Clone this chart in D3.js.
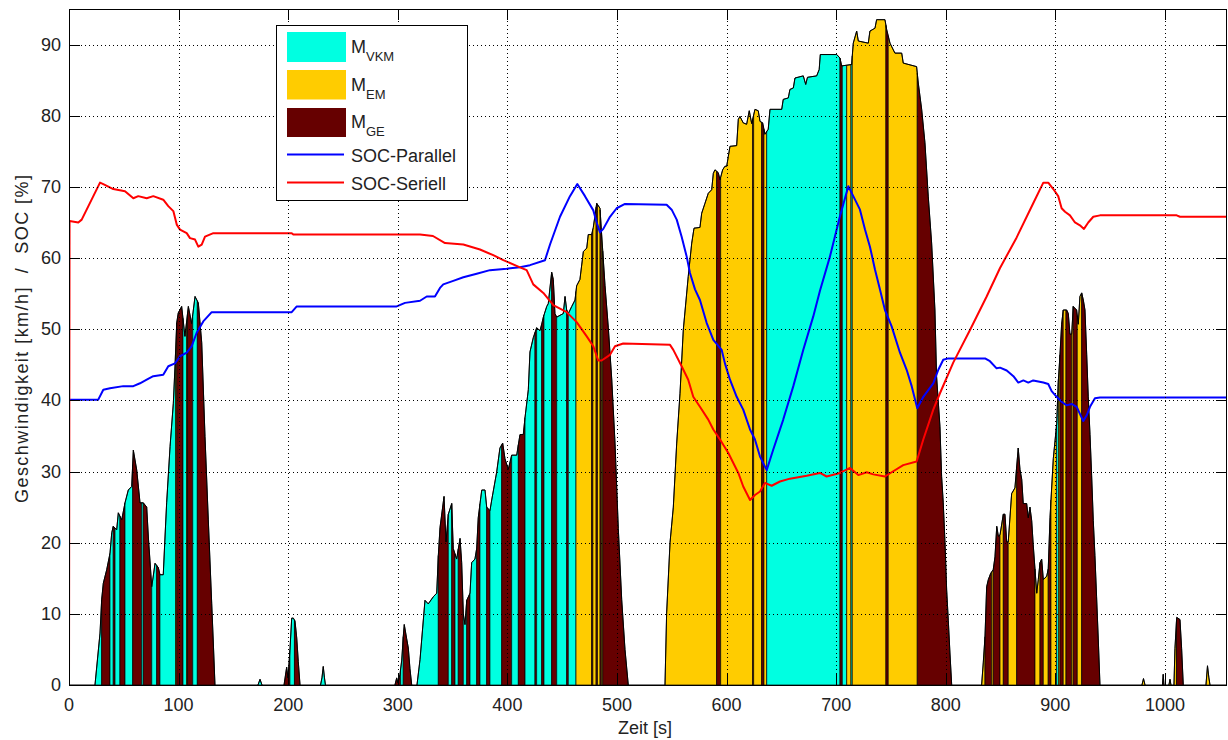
<!DOCTYPE html>
<html>
<head>
<meta charset="utf-8">
<script src="https://cdn.jsdelivr.net/npm/d3@7"></script>
<style>
  body { margin: 0; background: #fff; }
  svg { display: block; }
  text { font-family: "Liberation Sans", Arial, Helvetica, sans-serif; fill: #222; }
</style>
</head>
<body>
<svg id="chart" width="1228" height="740"></svg>
<script>
// ---- Data -----------------------------------------------------------------
// Vehicle speed over the cycle: [time s, speed km/h]
const speedProfile = [
  [0,0],[23.7,0],[28.3,7.3],[29.8,12],[31.3,14.3],[34.4,16.2],[37.4,18.5],[39.0,21.4],[40.4,22.3],
  [43.5,21.8],[45.0,24.2],[48.1,23.2],[51.1,25.6],[54.1,27.4],[57.2,27.9],[58.7,33],[61.8,30.2],
  [64.8,25.6],[67.8,25.6],[70.9,25],[72.4,20.8],[75.5,13.8],[78.5,17.1],[81.5,16.5],[83.0,15.5],
  [86.0,15.5],[87.6,20.8],[89.1,25.6],[92.2,33.5],[95.2,39.6],[96.7,44.7],[98.3,50.9],[99.7,52.3],
  [102.8,53.2],[105.8,49],[108.9,53.2],[111.9,50.8],[115.0,54.6],[118.0,53.7],[121.1,48.1],
  [124.1,34.9],[127.1,23.2],[130.2,11.5],[131.7,5.9],[133.2,0],
  [172.4,0],[174.3,0.8],[176.1,0],
  [196.2,0],[198.6,2.5],[199.8,1],[201.6,4.9],[203.2,9.4],[204.7,9.4],[206.2,9],[207.8,6.6],
  [209.2,3.3],[210.8,0],
  [229.5,0],[230.8,1],[232.0,2.6],[233.1,1],[234.0,0],
  [297.4,0],[299.0,1],[300.2,0.3],[302.0,1.5],[303.6,3.5],[305.0,6.8],[305.9,8.5],[308.1,6.5],
  [309.6,5.2],[311.1,2.3],[312.7,0],
  [317.5,0],[320.3,3.6],[324.8,11.9],[327.8,11.4],[332.4,12.4],[335.5,12.9],[337.0,18.2],
  [338.5,22.1],[342.2,26.5],[344.0,20.1],[346.1,24],[349.2,25.5],[350.6,19.2],[353.7,17.7],
  [356.8,20.6],[358.3,17.2],[359.8,10],[361.3,8.5],[362.9,11.9],[365.9,12.9],[367.4,17.2],
  [370.4,17.7],[372.0,19.2],[373.4,23.5],[376.6,27.4],[379.6,27.4],[381.1,25],[384.1,24.5],
  [385.7,26],[390.2,29.9],[393.2,33.3],[395.7,34],[397.8,31.8],[400.8,30.3],[403.9,32.3],
  [408.5,32.3],[411.5,35.2],[414.5,35.2],[416.1,37.6],[419.1,41.5],[420.6,46.8],[423.6,48.8],
  [426.7,50.2],[429.7,49.8],[431.3,50.7],[432.8,51.7],[435.9,53.2],[437.3,53.6],[440.4,58],
  [441.9,57],[443.4,52.2],[445.0,51.7],[451.0,52.2],[452.6,54.6],[454.1,52.7],[455.6,52.2],
  [458.7,53.2],[461.7,54.1],[463.2,56.1],[466.2,57],[469.3,60.9],[472.4,61.4],[473.8,63.3],
  [476.9,63.3],[478.4,64.3],[481.5,67.7],[484.5,67],[486.0,63.3],[489.1,56.1],[492.1,50.2],
  [495.2,43],[498.2,34],[501.2,22],[504.3,12],[507.3,5],[510.3,0],
  [543.8,0],[545.3,10.1],[548.4,20],[551.4,25],[554.5,34],[557.5,41],[560.5,49.9],[565.0,57.4],
  [568.2,62.1],[570.3,64.2],[575.7,64.3],[577.3,66.3],[580.3,67.7],[583.3,69.1],[586.4,69.6],
  [587.9,71.9],[589.4,72.4],[592.4,72],[594.0,71],[596.4,72.4],[598.5,72.9],[600.1,72.9],
  [601.6,74.3],[603.1,75.7],[609.2,75.8],[610.7,79.5],[612.2,79.9],[615.2,79],[618.3,78.8],
  [620.7,80.7],[622.9,78.9],[625.9,80.9],[628.9,80.7],[630.5,79.2],[632.9,79],[635.0,77.4],
  [638.0,78.1],[639.6,80.9],[650.3,80.9],[651.7,82.3],[656.3,82.5],[657.8,83.7],[660.9,83.9],
  [662.4,85.3],[670.0,85.6],[672.2,84.4],[673.8,85.4],[682.2,85.6],[684.5,86.5],[685.5,88.6],
  [700.5,88.6],[703.5,88.1],[705.0,87],[714.1,87.2],[715.6,90.2],[718.7,91.9],[720.2,90.5],
  [729.3,90.2],[730.8,91.9],[735.4,92.3],[736.9,93.5],[744.5,93.5],[746.1,92.1],[749.1,90.2],
  [753.6,88.8],[759.8,88.8],[761.2,87.4],[773.4,86.9],[774.9,84.6],[778.0,80.9],[781.0,76.2],
  [784.0,68.7],[787.1,62.1],[790.1,52.7],[791.6,43.4],[794.7,36.3],[796.2,29.3],[797.7,25.6],
  [799.3,20],[800.8,13.4],[802.3,9.1],[803.8,4.5],[805.4,0],
  [832.7,0],[834.2,3.1],[835.8,6.8],[837.3,13.8],[838.8,14.8],[841.0,15.7],[843.3,16.2],
  [844.9,18],[846.5,22.3],[848.0,20.9],[849.5,21.1],[852.5,24],[854.0,24],[855.6,20.1],
  [857.0,20.1],[860.1,26.9],[863.1,27.7],[866.1,33.3],[867.7,30.3],[869.3,28.9],[870.7,25.5],
  [873.8,25.5],[875.3,23.5],[876.8,25],[878.4,23.1],[879.8,19.7],[883.0,12.9],[884.4,14.8],
  [886.0,17.2],[887.5,17.7],[889.0,14.8],[892.1,15.3],[893.5,16.3],[895.1,23.5],[898.1,31.8],
  [901.2,36.7],[902.6,42.5],[904.2,46.4],[905.7,50.7],[907.2,52.7],[910.3,52.7],[911.8,52.2],
  [913.3,49.3],[914.9,49.3],[916.3,53.2],[919.4,52.7],[920.9,50.7],[922.4,54.6],[924.0,55.1],
  [925.5,54.1],[927.0,52.7],[928.6,46.4],[930.0,40.5],[931.6,35.2],[933.1,29.4],[934.6,23.1],
  [936.1,18.2],[937.6,12.4],[939.1,6.6],[940.7,0],
  [979.0,0],[980.4,0.9],[981.8,0],
  [997.7,0],[998.4,1.5],[999.1,0],
  [1003.6,0],[1004.6,0.8],[1005.5,0],
  [1008.2,0],[1009.1,5.1],[1010.7,9.5],[1013.7,9.2],[1015.2,5.1],[1016.7,0],
  [1037.4,0],[1038.8,2.7],[1040.1,1],[1041.1,0],[1056.6,0]
];

// Active drive source per interval: [start s, end s, source]
const modeIntervals = [
  [23.7,29.8,"VKM"],[29.8,37.4,"GE"],[37.4,40.4,"VKM"],[40.4,42.0,"GE"],[42.0,46.5,"VKM"],
  [46.5,51.1,"GE"],[51.1,58.1,"VKM"],[58.1,66.3,"GE"],[66.3,67.8,"VKM"],[67.8,75.5,"GE"],
  [75.5,80.0,"VKM"],[80.0,83.0,"GE"],[83.0,97.2,"VKM"],[97.2,98.3,"EM"],[98.3,104.0,"GE"],
  [104.0,107.2,"VKM"],[107.2,108.1,"EM"],[108.1,112.9,"GE"],[112.9,117.1,"VKM"],[117.1,133.2,"GE"],
  [172.4,176.1,"VKM"],
  [196.2,201.6,"GE"],[201.6,205.7,"VKM"],[205.7,210.8,"GE"],
  [229.5,234.0,"VKM"],
  [297.4,302.6,"GE"],[302.6,305.0,"VKM"],[305.0,312.7,"GE"],
  [317.5,337.0,"VKM"],[337.0,346.1,"GE"],[346.1,349.2,"VKM"],[349.2,352.2,"GE"],[352.2,355.2,"VKM"],
  [355.2,359.8,"GE"],[359.8,362.9,"VKM"],[362.9,365.9,"GE"],[365.9,372.0,"VKM"],[372.0,375.0,"GE"],
  [375.0,381.1,"VKM"],[381.1,384.1,"GE"],[384.1,394.8,"VKM"],[394.8,403.9,"GE"],[403.9,410.0,"VKM"],
  [410.0,416.1,"GE"],[416.1,425.2,"VKM"],[425.2,426.7,"GE"],[426.7,431.3,"VKM"],[431.3,433.4,"GE"],
  [433.4,440.4,"VKM"],[440.4,445.0,"GE"],[445.0,454.1,"VKM"],[454.1,455.6,"GE"],[455.6,462.6,"VKM"],
  [462.6,476.9,"EM"],[476.9,478.0,"GE"],[478.0,481.0,"EM"],[481.0,482.2,"GE"],[482.2,484.6,"EM"],
  [484.6,485.8,"GE"],[485.8,487.0,"EM"],[487.0,510.3,"GE"],
  [543.8,590.9,"EM"],[590.9,594.6,"GE"],[594.6,623.8,"EM"],[623.8,624.7,"GE"],[624.7,632.0,"EM"],
  [632.0,634.1,"GE"],[634.1,636.6,"EM"],[636.6,703.5,"VKM"],[703.5,705.6,"GE"],[705.6,709.6,"VKM"],
  [709.6,713.5,"EM"],[713.5,714.7,"VKM"],[714.7,745.4,"EM"],[745.4,747.5,"GE"],[747.5,774.0,"EM"],
  [774.0,805.4,"GE"],
  [832.7,835.8,"EM"],[835.8,841.9,"GE"],[841.9,843.3,"EM"],[843.3,849.5,"GE"],[849.5,852.5,"EM"],
  [852.5,857.0,"GE"],[857.0,864.7,"EM"],[864.7,881.4,"GE"],[881.4,886.0,"EM"],[886.0,889.0,"GE"],
  [889.0,893.5,"EM"],[893.5,896.0,"GE"],[896.0,901.0,"EM"],[901.0,902.8,"VKM"],[902.8,904.2,"EM"],
  [904.2,907.2,"GE"],[907.2,909.7,"EM"],[909.7,914.9,"GE"],[914.9,916.3,"EM"],[916.3,920.0,"GE"],
  [920.0,924.0,"EM"],[924.0,940.7,"GE"],
  [979.0,981.8,"EM"],[997.7,999.1,"GE"],[1003.6,1005.5,"EM"],[1008.2,1010.5,"EM"],
  [1010.5,1016.7,"GE"],[1037.4,1041.1,"EM"]
];

// Battery state of charge, parallel hybrid: [time s, SOC %]
const socParallel = [
  [0,40.1],[26.7,40.1],[31.3,41.5],[37.4,41.7],[49.5,42],[58.7,42],[64.8,42.4],[70.9,42.9],
  [76.9,43.4],[86.0,43.6],[90.6,44.8],[96.7,45.2],[101.3,46.2],[107.4,46.7],[111.9,47.6],
  [116.5,49.5],[122.5,51.1],[130.2,52.4],[203.2,52.4],[207.8,53.2],[299.0,53.2],[306.6,53.7],
  [320.3,54.0],[326.4,54.6],[333.9,54.6],[338.5,55.8],[341.5,56.3],[350.6,56.8],[359.8,57.3],
  [372.0,57.8],[384.1,58.3],[399.4,58.5],[411.5,58.7],[420.6,59],[434.3,59.7],[438.9,61.9],
  [448.0,65.8],[457.1,68.7],[463.8,70.4],[470.8,68.7],[478.4,66.7],[481.5,65],[484.5,63.6],
  [487.5,64.1],[493.6,65.8],[499.7,67],[507.3,67.6],[545.3,67.5],[549.9,66.8],[554.5,65.4],
  [559.0,63],[563.6,60.2],[566.6,57.9],[571.2,55.6],[575.7,54.1],[581.8,50.9],[587.9,48.5],
  [595.5,47.1],[598.5,45.2],[603.1,42.9],[609.2,40.5],[615.2,38.7],[621.4,35.9],[625.9,34.5],
  [630.5,32.1],[636.6,30.2],[642.6,33.1],[651.7,37.3],[660.9,42],[670.0,47.1],[679.1,51.8],
  [685.2,55.4],[694.3,60.2],[703.5,65.9],[711.1,70.1],[715.6,68.7],[721.7,66.8],[726.3,64],
  [730.8,61.6],[735.4,58.4],[739.9,55.6],[744.5,52.7],[750.6,50.4],[758.2,46.7],[764.3,44.3],
  [768.9,42],[774.0,38.9],[779.5,40.5],[788.6,42.4],[793.2,44.3],[797.7,45.7],[802.3,45.9],
  [835.8,45.9],[840.3,45.5],[846.4,44.5],[849.5,44.6],[855.6,44.2],[861.7,43.4],[866.2,42.5],
  [870.8,42.8],[875.3,42.5],[879.8,42.8],[889.0,42.5],[893.5,42.3],[896.6,41.3],[901.2,40.5],
  [905.7,39.8],[910.3,39.3],[914.9,39.5],[919.4,39.1],[922.4,38.1],[925.5,37.1],[928.6,37.9],
  [931.6,39.1],[936.1,40.3],[940.7,40.4],[1056.6,40.4]
];

// Battery state of charge, series hybrid: [time s, SOC %]
const socSeriell = [
  [0,0],[0.5,65.2],[8.5,65],[11.6,65.4],[28.3,70.6],[31.3,70.4],[40.4,69.7],[51.1,69.4],
  [58.7,68.4],[63.2,68.7],[70.9,68.4],[76.9,68.7],[86.0,68.2],[90.6,67.3],[95.2,66.6],
  [98.3,64.7],[101.3,64],[107.4,63.5],[110.4,62.8],[115.0,62.6],[118.0,61.6],[121.1,61.9],
  [124.1,63],[131.7,63.5],[203.2,63.5],[204.7,63.3],[320.3,63.3],[332.1,63.1],[343.1,62.1],
  [359.8,61.9],[375.0,61.2],[387.1,60.4],[396.3,59.7],[411.5,58.7],[417.6,58.3],[423.6,56.3],
  [432.8,55.1],[441.9,53.4],[454.1,52.4],[463.2,51],[472.4,49],[478.4,47.6],[482.9,45.6],
  [486.0,45.6],[493.6,46.4],[498.2,47.6],[505.7,48],[548.4,47.8],[551.4,47.1],[559.0,44.8],
  [565.0,42.9],[569.6,40.5],[575.7,39.1],[583.3,37.3],[587.9,35.9],[594.0,34.5],[601.6,32.6],
  [610.7,29.8],[615.2,27.9],[621.4,26],[625.9,26.7],[630.5,27.2],[635.0,28.4],[641.1,28],
  [648.7,28.6],[657.8,29],[673.1,29.4],[685.2,29.8],[691.3,29.3],[703.5,29.8],[712.6,30.5],
  [720.2,29.5],[727.8,29.9],[733.9,29.6],[744.5,29.3],[750.6,29.9],[761.2,30.9],[773.4,31.4],
  [779.5,34.5],[788.6,38.7],[794.7,41],[806.8,45.3],[822.1,49.9],[837.3,54.6],[849.5,58.6],
  [864.7,62.9],[879.8,67.7],[889.0,70.6],[893.5,70.6],[898.1,69.7],[902.6,68.7],[905.7,67],
  [908.8,66.5],[913.3,66],[917.9,65],[922.4,64.6],[926.1,64.1],[930.0,65],[934.6,65.8],
  [940.7,66],[1010.7,66],[1013.7,65.8],[1056.6,65.8]
];

const xTicks = [0, 100, 200, 300, 400, 500, 600, 700, 800, 900, 1000];
const yTicks = [0, 10, 20, 30, 40, 50, 60, 70, 80, 90];
const modeNames = ["VKM", "EM", "GE"];
const modeColors = ["#00FFE1", "#FFCC00", "#660000"];
const socNames = ["SOC-Parallel", "SOC-Seriell"];
const socColors = ["#0000FF", "#FF0000"];
const xLabel = "Zeit [s]";
const yLabel = "Geschwindigkeit [km/h]  /  SOC [%]";

// ---- Layout ---------------------------------------------------------------
const svg = d3.select("#chart");
const plotL = 69, plotR = 1227, plotT = 9, plotB = 685;
const x = d3.scaleLinear().domain([0, 1056.6]).range([plotL, plotR]);
const y = d3.scaleLinear().domain([0, 95]).range([plotB, plotT]);
const colorOf = d3.scaleOrdinal().domain(modeNames).range(modeColors);

svg.append("defs").append("clipPath").attr("id", "plotClip")
  .append("rect").attr("x", plotL).attr("y", plotT)
  .attr("width", plotR - plotL).attr("height", plotB - plotT);

const plot = svg.append("g").attr("clip-path", "url(#plotClip)");

// linear interpolation of the speed trace
const bis = d3.bisector(d => d[0]).left;
function speedAt(t) {
  const i = bis(speedProfile, t);
  if (i <= 0) return speedProfile[0][1];
  if (i >= speedProfile.length) return speedProfile[speedProfile.length - 1][1];
  const a = speedProfile[i - 1], b = speedProfile[i];
  if (b[0] === a[0]) return b[1];
  return a[1] + (b[1] - a[1]) * (t - a[0]) / (b[0] - a[0]);
}

const line = d3.line().x(d => x(d[0])).y(d => y(d[1]));

// filled speed area, one patch per drive-source interval
plot.append("g").selectAll("path").data(modeIntervals).join("path")
  .attr("d", ([t0, t1]) => {
    const pts = [[t0, 0], [t0, speedAt(t0)]];
    speedProfile.forEach(p => { if (p[0] > t0 && p[0] < t1) pts.push(p); });
    pts.push([t1, speedAt(t1)], [t1, 0]);
    return line(pts) + "Z";
  })
  .attr("fill", d => colorOf(d[2]))
  .attr("stroke", "#000")
  .attr("stroke-width", 0.7);

// speed outline
plot.append("path").datum(speedProfile)
  .attr("d", line).attr("fill", "none").attr("stroke", "#000").attr("stroke-width", 1);

// dotted grid on top of the areas
const grid = svg.append("g").attr("stroke", "#000").attr("stroke-width", 1)
  .attr("stroke-dasharray", "1,3");
grid.selectAll("line.v").data(xTicks.filter(d => d > 0)).join("line").attr("class", "v")
  .attr("x1", d => Math.round(x(d)) + 0.5).attr("x2", d => Math.round(x(d)) + 0.5)
  .attr("y1", plotT).attr("y2", plotB);
grid.selectAll("line.h").data(yTicks.filter(d => d > 0)).join("line").attr("class", "h")
  .attr("x1", plotL).attr("x2", plotR)
  .attr("y1", d => Math.round(y(d)) + 0.5).attr("y2", d => Math.round(y(d)) + 0.5);

// state-of-charge curves
const socSeries = [socParallel, socSeriell];
plot.append("g").selectAll("path").data(socSeries).join("path")
  .attr("d", line).attr("fill", "none")
  .attr("stroke", (d, i) => socColors[i]).attr("stroke-width", 2)
  .attr("stroke-linejoin", "round");

// frame and inward ticks
const axes = svg.append("g").attr("stroke", "#000").attr("stroke-width", 1);
axes.append("rect").attr("x", plotL + 0.5).attr("y", plotT + 0.5)
  .attr("width", plotR - plotL - 1).attr("height", plotB - plotT).attr("fill", "none");
const tl = 11;
xTicks.forEach(t => {
  const px = Math.round(x(t)) + 0.5;
  axes.append("line").attr("x1", px).attr("x2", px).attr("y1", plotB).attr("y2", plotB - tl);
  axes.append("line").attr("x1", px).attr("x2", px).attr("y1", plotT).attr("y2", plotT + tl);
});
yTicks.forEach(v => {
  const py = Math.round(y(v)) + 0.5;
  axes.append("line").attr("x1", plotL).attr("x2", plotL + tl).attr("y1", py).attr("y2", py);
  axes.append("line").attr("x1", plotR).attr("x2", plotR - tl).attr("y1", py).attr("y2", py);
});

// tick labels
const fs = 18;
svg.append("g").selectAll("text").data(xTicks).join("text")
  .attr("x", d => x(d)).attr("y", 711).attr("text-anchor", "middle")
  .attr("font-size", fs).text(d => d);
svg.append("g").selectAll("text").data(yTicks).join("text")
  .attr("x", 61).attr("y", d => y(d) + 6).attr("text-anchor", "end")
  .attr("font-size", fs).text(d => d);

// axis titles
svg.append("text").attr("x", 645).attr("y", 734).attr("text-anchor", "middle")
  .attr("font-size", fs).text(xLabel);
svg.append("text").attr("transform", "translate(28,339) rotate(-90)")
  .attr("text-anchor", "middle").attr("font-size", fs).style("white-space", "pre")
  .attr("textLength", 328).attr("lengthAdjust", "spacing")
  .text(yLabel);

// legend
const lg = svg.append("g");
lg.append("rect").attr("x", 276.5).attr("y", 25.5).attr("width", 191).attr("height", 175)
  .attr("fill", "#fff").attr("stroke", "#000").attr("stroke-width", 1);
const patchRows = [[32, 62, 53.3], [70, 99.5, 91], [108, 137, 128.3]];
modeNames.forEach((m, i) => {
  const [y0, y1, base] = patchRows[i];
  lg.append("rect").attr("x", 287).attr("y", y0).attr("width", 59).attr("height", y1 - y0)
    .attr("fill", modeColors[i]);
  const t = lg.append("text").attr("x", 351).attr("y", base).attr("font-size", fs);
  t.append("tspan").text("M");
  t.append("tspan").attr("font-size", 13).attr("dy", 8).text(m);
});
const lineRows = [[154.5, 161.5], [182.5, 190]];
socNames.forEach((n, i) => {
  const [ly, base] = lineRows[i];
  lg.append("line").attr("x1", 287).attr("x2", 344).attr("y1", ly).attr("y2", ly)
    .attr("stroke", socColors[i]).attr("stroke-width", 2);
  lg.append("text").attr("x", 351).attr("y", base).attr("font-size", fs).text(n);
});
</script>
</body>
</html>
